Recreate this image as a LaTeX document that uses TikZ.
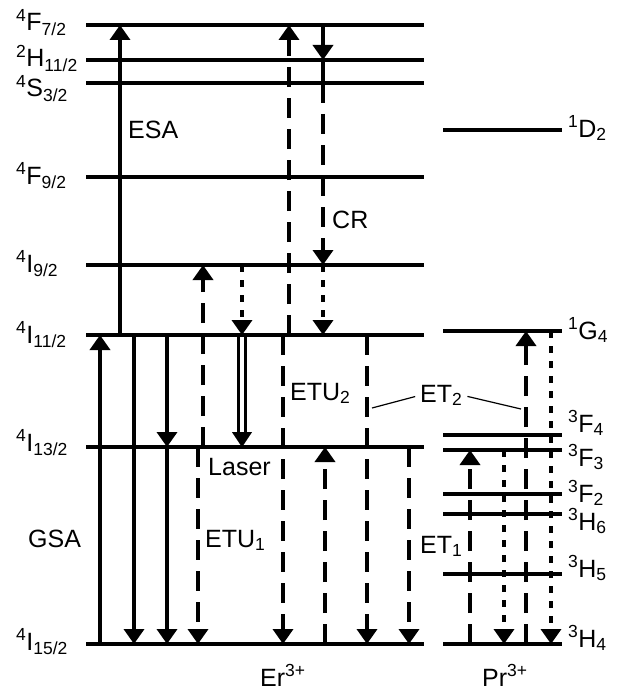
\documentclass[tikz,border=0pt]{standalone}
\usepackage{fontspec}
\setmainfont{Liberation Sans}
\usepackage{tikz}
\usetikzlibrary{arrows.meta}
\tikzset{
  level/.style={line width=3.3pt},
  tip/.style={-{Triangle[width=20pt,length=15pt]}},
  rad/.style={line width=3.6pt,tip},
  etu/.style={line width=3.6pt,dash pattern=on 20pt off 11pt,tip},
  nonrad/.style={line width=3.6pt,dash pattern=on 7pt off 8pt,tip},
  laserline/.style={line width=3.4pt,shorten >=12pt},
  lasertip/.style={line width=0.1pt,shorten <=98pt,tip},
  txt/.style={anchor=base west,inner sep=0pt,font=\fontsize{25}{30}\selectfont},
  leader/.style={line width=1.2pt,shorten <=5pt}
}
\newcommand{\term}[3]{\textsuperscript{#1}#2\textsubscript{#3}}
\newcommand{\erlevel}[4]{%
  \draw[level] (86,#2) coordinate (#1) -- (424,#2);
  \node[txt] (#1lbl) at (16,#3) {#4};
}
\newcommand{\prlevel}[4]{%
  \draw[level] (443,#2) coordinate (#1) -- (562,#2);
  \node[txt] (#1lbl) at (568,#3) {#4};
}
\newcommand{\trans}[4][]{%
  \draw[#1] (#2,0 |- #3) -- (#2,0 |- #4);
}

\begin{document}
\begin{tikzpicture}[x=1pt,y=-1pt]
  \useasboundingbox (0,0) rectangle (616,690);
  % Er levels
  \erlevel{F72}{25}{31}{\term{4}{F}{7/2}}
  \erlevel{H112}{60}{67}{\term{2}{H}{11/2}}
  \erlevel{S32}{83}{97}{\term{4}{S}{3/2}}
  \erlevel{F92}{177}{184}{\term{4}{F}{9/2}}
  \erlevel{I92}{265}{272}{\term{4}{I}{9/2}}
  \erlevel{I112}{335}{343}{\term{4}{I}{11/2}}
  \erlevel{I132}{447}{451}{\term{4}{I}{13/2}}
  \erlevel{I152}{644}{650}{\term{4}{I}{15/2}}
  % Pr levels
  \prlevel{D2}{130}{137}{\term{1}{D}{2}}
  \prlevel{G4}{331}{339}{\term{1}{G}{4}}
  \prlevel{F4}{435}{432}{\term{3}{F}{4}}
  \prlevel{F3}{450}{466}{\term{3}{F}{3}}
  \prlevel{F2}{494}{502}{\term{3}{F}{2}}
  \prlevel{H6}{514}{530}{\term{3}{H}{6}}
  \prlevel{H5}{574}{577}{\term{3}{H}{5}}
  \prlevel{H4}{644}{647}{\term{3}{H}{4}}
  % GSA, ESA and emission
  \trans[rad]{100}{I152}{I112}
  \trans[rad]{120}{I112}{F72}
  \trans[rad]{134}{I112}{I152}
  \trans[rad]{167}{I112}{I132}
  \trans[rad]{167}{I132}{I152}
  % ETU1 and laser
  \trans[etu]{203}{I132}{I92}
  \trans[etu]{198}{I132}{I152}
  \trans[nonrad]{242}{I92}{I112}
  \trans[laserline]{238.5}{I112}{I132}
  \trans[laserline]{245.5}{I112}{I132}
  \trans[lasertip]{242}{I112}{I132}
  % ETU2
  \trans[etu]{289}{I112}{F72}
  \trans[etu]{283}{I112}{I152}
  % CR
  \trans[etu]{323}{F72}{H112}
  \trans[line width=3.6pt]{323}{H112}{S32}
  \trans[etu]{323}{S32}{I92}
  \trans[nonrad]{323}{I92}{I112}
  \trans[etu]{325}{I152}{I132}
  % ET2 and ET1
  \trans[etu]{367}{I112}{I152}
  \trans[etu]{409}{I132}{I152}
  \trans[etu]{470}{H4}{F3}
  \trans[nonrad]{504}{F3}{H4}
  \trans[etu]{526}{H4}{G4}
  \trans[nonrad]{551}{G4}{H4}
  % labels
  \node[txt] (gsa) at (28,547) {GSA};
  \node[txt] (esa) at (128,138) {ESA};
  \node[txt] (cr) at (332,228) {CR};
  \node[txt] (laser) at (208,475) {Laser};
  \node[txt] (etu1) at (205,547) {ETU\textsubscript{1}};
  \node[txt] (etu2) at (290,400) {ETU\textsubscript{2}};
  \node[txt] (et2) at (420,402) {ET\textsubscript{2}};
  \node[txt] (et1) at (420,553) {ET\textsubscript{1}};
  \node[txt] (er) at (260,686) {Er\textsuperscript{3+}};
  \node[txt] (pr) at (482,686) {Pr\textsuperscript{3+}};
  \coordinate (et2l) at (372,408);
  \coordinate (et2r) at (521,409);
  \draw[leader] (et2.west) -- (et2l);
  \draw[leader] (et2.east) -- (et2r);
\end{tikzpicture}
\end{document}
